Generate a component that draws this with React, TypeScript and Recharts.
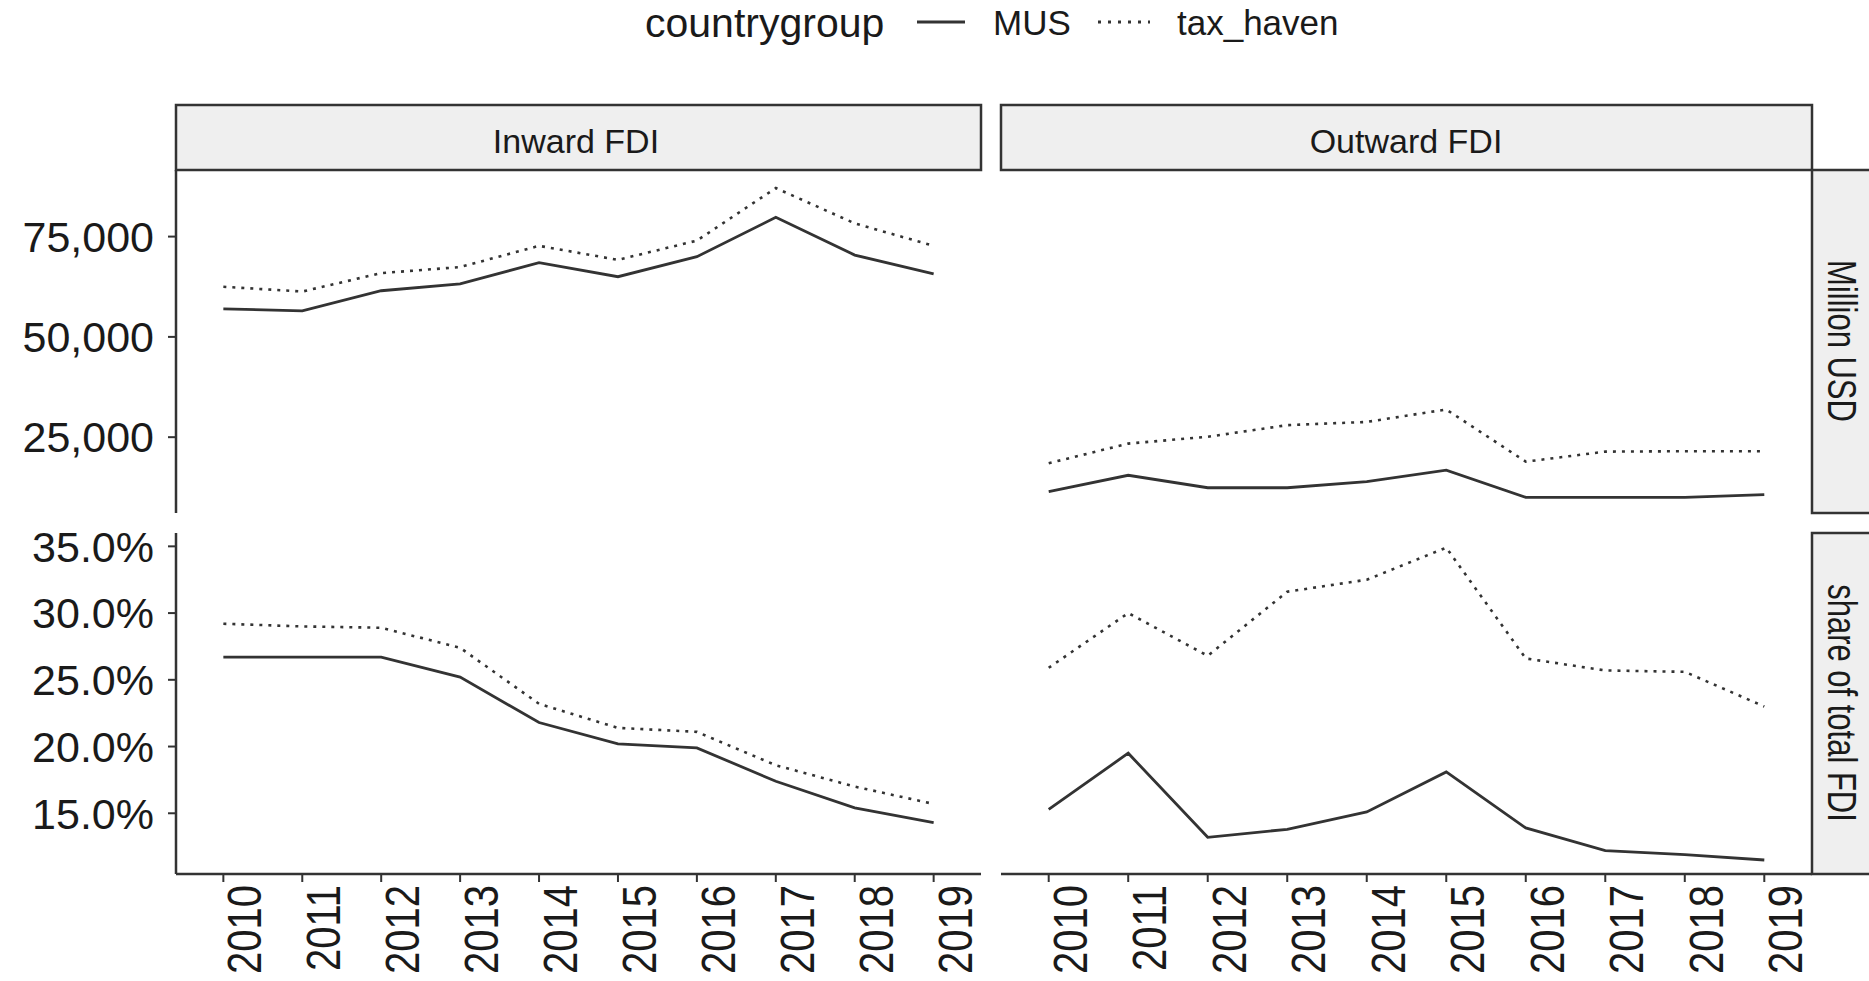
import { LineChart, Line, XAxis, YAxis } from 'recharts';

// values
const years = [2010, 2011, 2012, 2013, 2014, 2015, 2016, 2017, 2018, 2019];

const inwardMusUsd = [57000, 56500, 61500, 63200, 68500, 65000, 70000, 79800, 70400, 65700];
const inwardTaxUsd = [62500, 61300, 65900, 67400, 72700, 69200, 74000, 87100, 78300, 72700];
const outwardMusUsd = [11400, 15500, 12400, 12400, 13900, 16800, 10000, 10000, 10000, 10700];
const outwardTaxUsd = [18500, 23400, 25100, 28000, 28800, 31900, 18900, 21400, 21500, 21500];

const inwardMusShare = [26.7, 26.7, 26.7, 25.2, 21.8, 20.2, 19.9, 17.4, 15.4, 14.3];
const inwardTaxShare = [29.2, 29.0, 28.9, 27.4, 23.2, 21.4, 21.1, 18.6, 17.0, 15.7];
const outwardMusShare = [15.3, 19.5, 13.2, 13.8, 15.1, 18.1, 13.9, 12.2, 11.9, 11.5];
const outwardTaxShare = [25.9, 30.0, 26.8, 31.6, 32.5, 34.9, 26.6, 25.7, 25.6, 23.0];

const usdTicks = [25000, 50000, 75000];
const shareTicks = [15, 20, 25, 30, 35];
const facetCols = ['Inward FDI', 'Outward FDI'];
const facetRows = ['Million USD', 'share of total FDI'];

const FONT = '"Liberation Sans", Arial, Helvetica, sans-serif';
const INK = '#333333';
const TEXT = '#1a1a1a';
const PAD = 20; // room above each panel so the top tick label is not clipped

const buildRows = (mus: number[], tax: number[]) =>
  years.map((year, i) => ({ year, MUS: mus[i], tax_haven: tax[i] }));

// rotated year labels, a bit wider across like in the source image
const XTick = ({ x, y, payload }: any) => (
  <text
    transform={`translate(${x + 38},${y + 1}) rotate(-90) scale(1,1.2)`}
    textAnchor="end"
    fontSize={40}
    fontFamily={FONT}
    fill={TEXT}
  >
    {payload.value}
  </text>
);

interface PanelProps {
  rows: { year: number; MUS: number; tax_haven: number }[];
  left: number;
  top: number;
  width: number;
  height: number;
  showY: boolean;
  showX: boolean;
  domain: [number, number];
  ticks: number[];
  fmt: (v: number) => string;
}

function Panel({ rows, left, top, width, height, showY, showX, domain, ticks, fmt }: PanelProps) {
  return (
    <div style={{ position: 'absolute', left, top: top - PAD }}>
      <LineChart width={width} height={height + PAD} data={rows} margin={{ top: PAD, right: 0, bottom: 0, left: 0 }}>
        <XAxis
          dataKey="year"
          type="number"
          domain={[2009.4, 2019.6]}
          ticks={years}
          allowDataOverflow
          hide={!showX}
          height={107}
          interval={0}
          tickSize={8}
          tickMargin={2}
          axisLine={{ stroke: INK, strokeWidth: 2.5 }}
          tickLine={{ stroke: INK, strokeWidth: 2 }}
          tick={<XTick />}
        />
        <YAxis
          type="number"
          domain={domain}
          ticks={ticks}
          interval={0}
          allowDataOverflow
          hide={!showY}
          width={176}
          tickSize={8}
          tickMargin={14}
          tickFormatter={fmt}
          axisLine={{ stroke: INK, strokeWidth: 2.5 }}
          tickLine={{ stroke: INK, strokeWidth: 2 }}
          tick={{ fontSize: 43, fill: TEXT, fontFamily: FONT }}
        />
        <Line
          type="linear"
          dataKey="MUS"
          stroke={INK}
          strokeWidth={2.8}
          dot={false}
          isAnimationActive={false}
        />
        <Line
          type="linear"
          dataKey="tax_haven"
          stroke={INK}
          strokeWidth={2.6}
          strokeDasharray="3 6"
          dot={false}
          isAnimationActive={false}
        />
      </LineChart>
    </div>
  );
}

const fmtUsd = (v: number) => v.toLocaleString('en-US');
const fmtShare = (v: number) => `${v.toFixed(1)}%`;

export default function App() {
  return (
    <div
      style={{
        position: 'absolute',
        left: 0,
        top: 0,
        width: 1869,
        height: 981,
        background: '#fff',
        overflow: 'hidden',
        fontFamily: FONT,
      }}
    >
      <svg width={1869} height={981} style={{ position: 'absolute', left: 0, top: 0 }}>
        {/* legend */}
        <text x={645} y={37} fontSize={41} fill={TEXT} fontFamily={FONT}>countrygroup</text>
        <line x1={917} x2={965} y1={22} y2={22} stroke={INK} strokeWidth={3} />
        <text x={993} y={35} fontSize={35} fill={TEXT} fontFamily={FONT}>MUS</text>
        <line x1={1098} x2={1150} y1={22} y2={22} stroke={INK} strokeWidth={3} strokeDasharray="3 7" />
        <text x={1177} y={35} fontSize={35} fill={TEXT} fontFamily={FONT}>tax_haven</text>

        {/* column strips */}
        <rect x={176} y={105} width={805} height={65} fill="#efefef" stroke={INK} strokeWidth={2.5} />
        <text x={576} y={153} fontSize={34} textAnchor="middle" fill={TEXT} fontFamily={FONT}>{facetCols[0]}</text>
        <rect x={1001} y={105} width={811} height={65} fill="#efefef" stroke={INK} strokeWidth={2.5} />
        <text x={1406} y={153} fontSize={34} textAnchor="middle" fill={TEXT} fontFamily={FONT}>{facetCols[1]}</text>

        {/* row strips */}
        <rect x={1812} y={170} width={70} height={343} fill="#efefef" stroke={INK} strokeWidth={2.5} />
        <text transform="translate(1828,341) rotate(90) scale(1,1.3)" fontSize={31} textAnchor="middle" fill={TEXT} fontFamily={FONT}>{facetRows[0]}</text>
        <rect x={1812} y={533} width={70} height={341} fill="#efefef" stroke={INK} strokeWidth={2.5} />
        <text transform="translate(1828,703) rotate(90) scale(1,1.3)" fontSize={31} textAnchor="middle" fill={TEXT} fontFamily={FONT}>{facetRows[1]}</text>
      </svg>

      <Panel rows={buildRows(inwardMusUsd, inwardTaxUsd)} left={0} top={170} width={981} height={343}
        showY showX={false} domain={[6100, 91600]} ticks={usdTicks} fmt={fmtUsd} />
      <Panel rows={buildRows(outwardMusUsd, outwardTaxUsd)} left={1001} top={170} width={811} height={343}
        showY={false} showX={false} domain={[6100, 91600]} ticks={usdTicks} fmt={fmtUsd} />
      <Panel rows={buildRows(inwardMusShare, inwardTaxShare)} left={0} top={533} width={981} height={448}
        showY showX domain={[10.45, 36.0]} ticks={shareTicks} fmt={fmtShare} />
      <Panel rows={buildRows(outwardMusShare, outwardTaxShare)} left={1001} top={533} width={811} height={448}
        showY={false} showX domain={[10.45, 36.0]} ticks={shareTicks} fmt={fmtShare} />
    </div>
  );
}
